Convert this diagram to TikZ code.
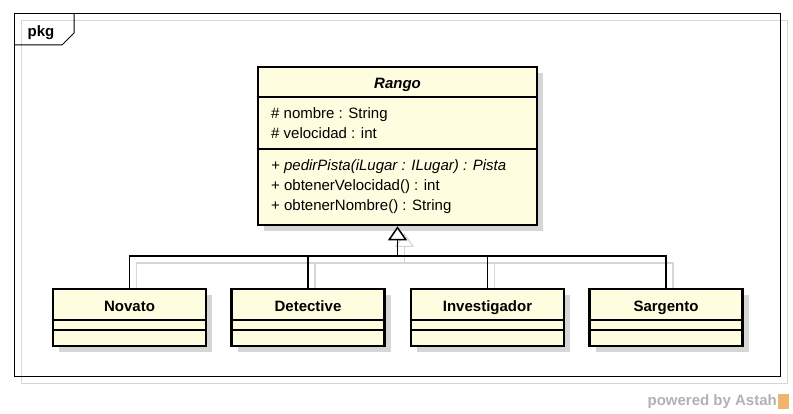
\documentclass[tikz,border=0pt]{standalone}
\usepackage{fontspec}
\setmainfont{Liberation Sans}
\usetikzlibrary{shadows,arrows.meta}

\definecolor{classfill}{RGB}{255,253,224}
\definecolor{shadegray}{RGB}{214,214,214}
\definecolor{markgray}{RGB}{178,178,178}
\definecolor{astahorange}{RGB}{240,180,110}

\begin{document}
\begin{tikzpicture}[x=1pt,y=-1pt,
    classbox/.style={draw,line width=2.6pt,fill=classfill,
        drop shadow={shadow xshift=6pt,shadow yshift=-6pt,fill=shadegray,opacity=1}},
    sepline/.style={line width=1.2pt},
    genline/.style={line width=1.5pt},
    shadeline/.style={line width=1.2pt,draw=shadegray},
    gentip/.style={-{Triangle[open,length=14pt,width=19pt,fill=white]}},
    classname/.style={font=\fontsize{15}{18}\selectfont\bfseries,anchor=base},
    member/.style={font=\fontsize{15}{18}\selectfont,anchor=base west,inner sep=0pt}]
    \fill[white] (0,0) rectangle (793,414);
    \useasboundingbox (0,0) rectangle (793,414);

    % package frame
    \draw[shadegray,line width=1pt] (21,21) rectangle (787,383);
    \draw[line width=1pt] (14,14) rectangle (780,376);
    \draw[line width=1pt] (14,45) -- (62,45) -- (74,33) -- (74,14);
    \node[classname] (pkg) at (41,37) {pkg};

    % connector shadows
    \coordinate (joint) at (397.5,256);
    \coordinate (jointsh) at (404.5,263);
    \draw[shadeline] (136.5,289) |- (jointsh);
    \draw[shadeline] (315,289) |- (jointsh);
    \draw[shadeline] (494.5,289) |- (jointsh);
    \draw[shadeline] (673,289) |- (jointsh);
    \draw[shadeline,gentip] (jointsh) -- (404.5,233);

    % superclass
    \node[classbox,minimum width=279pt,minimum height=158pt] (rango) at (397.5,146) {};
    \draw[sepline] (rango.west |- 0,97) -- (rango.east |- 0,97);
    \draw[sepline] (rango.west |- 0,149) -- (rango.east |- 0,149);
    \node[classname] (rango-name) at (397.5,89) {\itshape Rango};
    \node[member] (attr1) at (271,119) {\# nombre : String};
    \node[member] (attr2) at (271,139) {\# velocidad : int};
    \node[member] (op1) at (271,171) {\itshape + pedirPista(iLugar : ILugar) : Pista};
    \node[member] (op2) at (271,191) {+ obtenerVelocidad() : int};
    \node[member] (op3) at (271,211) {+ obtenerNombre() : String};

    % subclasses
    \node[classbox,minimum width=153pt,minimum height=57pt] (novato) at (129.5,317.5) {};
    \node[classbox,minimum width=153pt,minimum height=57pt] (detective) at (308,317.5) {};
    \node[classbox,minimum width=153pt,minimum height=57pt] (investigador) at (487.5,317.5) {};
    \node[classbox,minimum width=153pt,minimum height=57pt] (sargento) at (666,317.5) {};
    \node[classname] (novato-name) at (129.5,311.5) {Novato};
    \node[classname] (detective-name) at (308,311.5) {Detective};
    \node[classname] (investigador-name) at (487.5,311.5) {Investigador};
    \node[classname] (sargento-name) at (666,311.5) {Sargento};
    \draw[sepline] (novato.west |- 0,320) -- (novato.east |- 0,320);
    \draw[sepline] (novato.west |- 0,330) -- (novato.east |- 0,330);
    \draw[sepline] (detective.west |- 0,320) -- (detective.east |- 0,320);
    \draw[sepline] (detective.west |- 0,330) -- (detective.east |- 0,330);
    \draw[sepline] (investigador.west |- 0,320) -- (investigador.east |- 0,320);
    \draw[sepline] (investigador.west |- 0,330) -- (investigador.east |- 0,330);
    \draw[sepline] (sargento.west |- 0,320) -- (sargento.east |- 0,320);
    \draw[sepline] (sargento.west |- 0,330) -- (sargento.east |- 0,330);

    % generalization
    \draw[genline] (novato.north) |- (joint);
    \draw[genline] (detective.north) |- (joint);
    \draw[genline] (investigador.north) |- (joint);
    \draw[genline] (sargento.north) |- (joint);
    \draw[genline,gentip] (joint) -- (rango.south);

    % watermark
    \node[font=\fontsize{15}{18}\selectfont\bfseries,text=markgray,anchor=base east,inner sep=0pt] (astah) at (777,405) {powered by Astah};
    \fill[astahorange] (778,394) rectangle (789,409);
\end{tikzpicture}
\end{document}
